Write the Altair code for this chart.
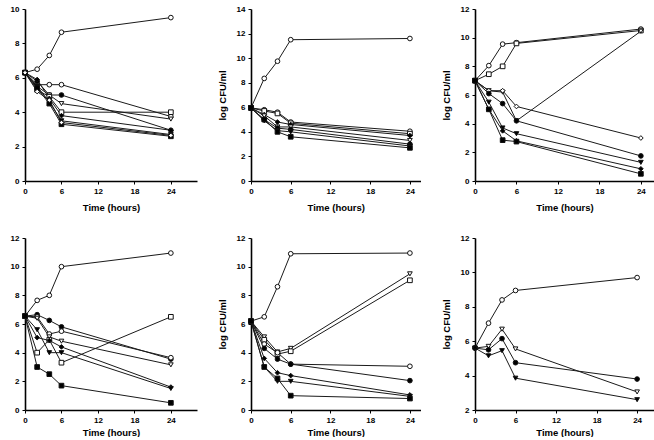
import altair as alt
import pandas as pd

times = [0, 2, 4, 6, 24]
x_ticks = [0, 6, 12, 18, 24]

# marker for each series key: (shape, fill)
markers = {
    "control": ("circle", "white"),
    "oc": ("circle", "white"),
    "fc": ("circle", "black"),
    "ot": ("triangle-down", "white"),
    "ft": ("triangle-down", "black"),
    "os": ("square", "white"),
    "fs": ("square", "black"),
    "od": ("diamond", "white"),
    "fd": ("diamond", "black"),
}

# Panel 1 (top left)
p1_control = [6.3, 6.5, 7.3, 8.65, 9.5]
p1_oc = [6.3, 5.6, 5.6, 5.6, 3.75]
p1_fc = [6.3, 5.8, 5.0, 5.0, 2.95]
p1_ot = [6.3, 5.5, 5.0, 4.5, 3.6]
p1_os = [6.3, 5.3, 4.9, 4.0, 4.0]
p1_fd = [6.3, 5.9, 4.8, 3.8, 2.95]
p1_ft = [6.3, 5.5, 4.6, 3.5, 2.7]
p1_fs = [6.3, 5.4, 4.5, 3.3, 2.6]
p1_od = [6.3, 5.2, 4.7, 3.4, 2.65]

# Panel 2 (top middle)
p2_control = [5.95, 8.35, 9.75, 11.5, 11.6]
p2_oc = [5.95, 5.8, 5.6, 4.8, 4.05]
p2_os = [5.95, 5.7, 5.5, 4.7, 3.85]
p2_fd = [5.95, 5.4, 4.8, 4.6, 3.7]
p2_ot = [5.95, 5.3, 4.4, 4.4, 3.3]
p2_fc = [5.95, 5.0, 4.3, 4.2, 3.0]
p2_ft = [5.95, 4.9, 4.1, 4.0, 2.85]
p2_fs = [5.95, 5.0, 4.0, 3.6, 2.7]

# Panel 3 (top right)
p3_control = [7.0, 8.05, 9.55, 9.65, 10.6]
p3_os = [7.0, 7.45, 8.0, 9.6, 10.5]
p3_ot = [7.0, 6.3, 6.2, 4.2, 10.45]
p3_od = [7.0, 6.3, 6.3, 5.2, 3.0]
p3_fc = [7.0, 6.1, 5.4, 4.2, 1.75]
p3_ft = [7.0, 5.5, 3.7, 3.3, 1.3]
p3_fd = [7.0, 5.0, 3.5, 2.8, 0.85]
p3_fs = [7.0, 5.0, 2.85, 2.75, 0.5]

# Panel 4 (bottom left)
p4_control = [6.55, 7.65, 8.0, 10.0, 10.95]
p4_fc = [6.55, 6.65, 6.25, 5.8, 3.55]
p4_oc = [6.55, 6.5, 5.3, 5.5, 3.65]
p4_ot = [6.55, 6.4, 5.1, 4.8, 3.15]
p4_os = [6.55, 4.0, 4.9, 3.3, 6.5]
p4_fd = [6.55, 5.05, 4.85, 4.4, 1.6]
p4_ft = [6.55, 5.6, 4.0, 4.0, 1.5]
p4_fs = [6.55, 3.0, 2.5, 1.7, 0.5]

# Panel 5 (bottom middle)
p5_control = [6.2, 6.5, 8.6, 10.9, 10.95]
p5_ot = [6.2, 5.1, 4.05, 4.3, 9.5]
p5_os = [6.2, 4.9, 3.9, 4.1, 9.05]
p5_oc = [6.2, 4.6, 4.0, 3.2, 3.05]
p5_fc = [6.2, 4.3, 3.55, 3.2, 2.05]
p5_fd = [6.2, 3.6, 2.6, 2.4, 1.05]
p5_ft = [6.2, 3.0, 2.0, 2.0, 0.95]
p5_fs = [6.2, 3.0, 2.2, 1.0, 0.8]

# Panel 6 (bottom right)
p6_control = [5.6, 7.05, 8.4, 8.95, 9.7]
p6_ot = [5.6, 5.7, 6.7, 5.55, 3.05]
p6_fc = [5.6, 5.5, 6.15, 4.75, 3.8]
p6_ft = [5.6, 5.15, 5.45, 3.85, 2.6]

panels = [
    dict(series={"control": p1_control, "oc": p1_oc, "fc": p1_fc, "ot": p1_ot, "os": p1_os,
                 "fd": p1_fd, "ft": p1_ft, "fs": p1_fs, "od": p1_od},
         ydom=[0, 10], yvals=[0, 2, 4, 6, 8, 10], xmax=28.3, w=172, h=172, ytitle=None, tpad=7),
    dict(series={"control": p2_control, "oc": p2_oc, "os": p2_os, "fd": p2_fd, "ot": p2_ot,
                 "fc": p2_fc, "ft": p2_ft, "fs": p2_fs},
         ydom=[0, 14], yvals=[0, 2, 4, 6, 8, 10, 12, 14], xmax=25.6, w=169.5, h=172,
         ytitle="log CFU/ml", tpad=7),
    dict(series={"control": p3_control, "os": p3_os, "ot": p3_ot, "od": p3_od, "fc": p3_fc,
                 "ft": p3_ft, "fd": p3_fd, "fs": p3_fs},
         ydom=[0, 12], yvals=[0, 2, 4, 6, 8, 10, 12], xmax=25.9, w=179, h=172,
         ytitle="log CFU/ml", tpad=7),
    dict(series={"control": p4_control, "fc": p4_fc, "oc": p4_oc, "ot": p4_ot, "os": p4_os,
                 "fd": p4_fd, "ft": p4_ft, "fs": p4_fs},
         ydom=[0, 12], yvals=[0, 2, 4, 6, 8, 10, 12], xmax=28.3, w=172, h=172, ytitle=None, tpad=3),
    dict(series={"control": p5_control, "ot": p5_ot, "os": p5_os, "oc": p5_oc, "fc": p5_fc,
                 "fd": p5_fd, "ft": p5_ft, "fs": p5_fs},
         ydom=[0, 12], yvals=[0, 2, 4, 6, 8, 10, 12], xmax=25.6, w=169.5, h=172,
         ytitle="log CFU/ml", tpad=3),
    dict(series={"control": p6_control, "ot": p6_ot, "fc": p6_fc, "ft": p6_ft},
         ydom=[2, 12], yvals=[2, 4, 6, 8, 10, 12], xmax=26.5, w=179, h=172,
         ytitle="log CFU/ml", tpad=3),
]


def make_panel(p):
    rows = []
    for key, vals in p["series"].items():
        shape, fill = markers[key]
        for t, v in zip(times, vals):
            rows.append({"t": t, "v": v, "s": key, "shape": shape, "fill": fill})
    df = pd.DataFrame(rows)
    x = alt.X("t:Q", scale=alt.Scale(domain=[0, p["xmax"]], nice=False),
              axis=alt.Axis(values=x_ticks, title="Time (hours)", titlePadding=p["tpad"],
                            labelFlush=False))
    y = alt.Y("v:Q", scale=alt.Scale(domain=p["ydom"], nice=False, zero=False),
              axis=alt.Axis(values=p["yvals"], title=p["ytitle"], titlePadding=9))
    lines = alt.Chart(df).mark_line(color="#1a1a1a", strokeWidth=1).encode(
        x=x, y=y, detail="s:N", order="t:Q")
    pts = alt.Chart(df).mark_point(filled=True, stroke="#111111", strokeWidth=1,
                                   size=22, opacity=1).encode(
        x=x, y=y,
        shape=alt.Shape("shape:N", scale=None),
        fill=alt.Fill("fill:N", scale=None))
    return alt.layer(lines, pts).properties(width=p["w"], height=p["h"])


charts = [make_panel(p) for p in panels]

chart = alt.concat(*charts, columns=3, spacing={"row": 57, "column": 54},
                   bounds="flush", align="each").properties(
    padding={"left": 10, "top": 5, "right": 0, "bottom": 0},
    background="white",
).configure_axis(
    domainColor="black", domainWidth=1.6, tickColor="black", tickSize=3, tickWidth=1,
    labelFont="Liberation Sans", labelFontWeight="bold", labelFontSize=8,
    labelColor="black", labelPadding=3,
    titleFont="Liberation Sans", titleFontWeight="bold", titleFontSize=9.5,
    titleColor="black", grid=False,
).configure_view(strokeWidth=0)

chart.save("out.html", embed_options={"renderer": "svg", "actions": False})
